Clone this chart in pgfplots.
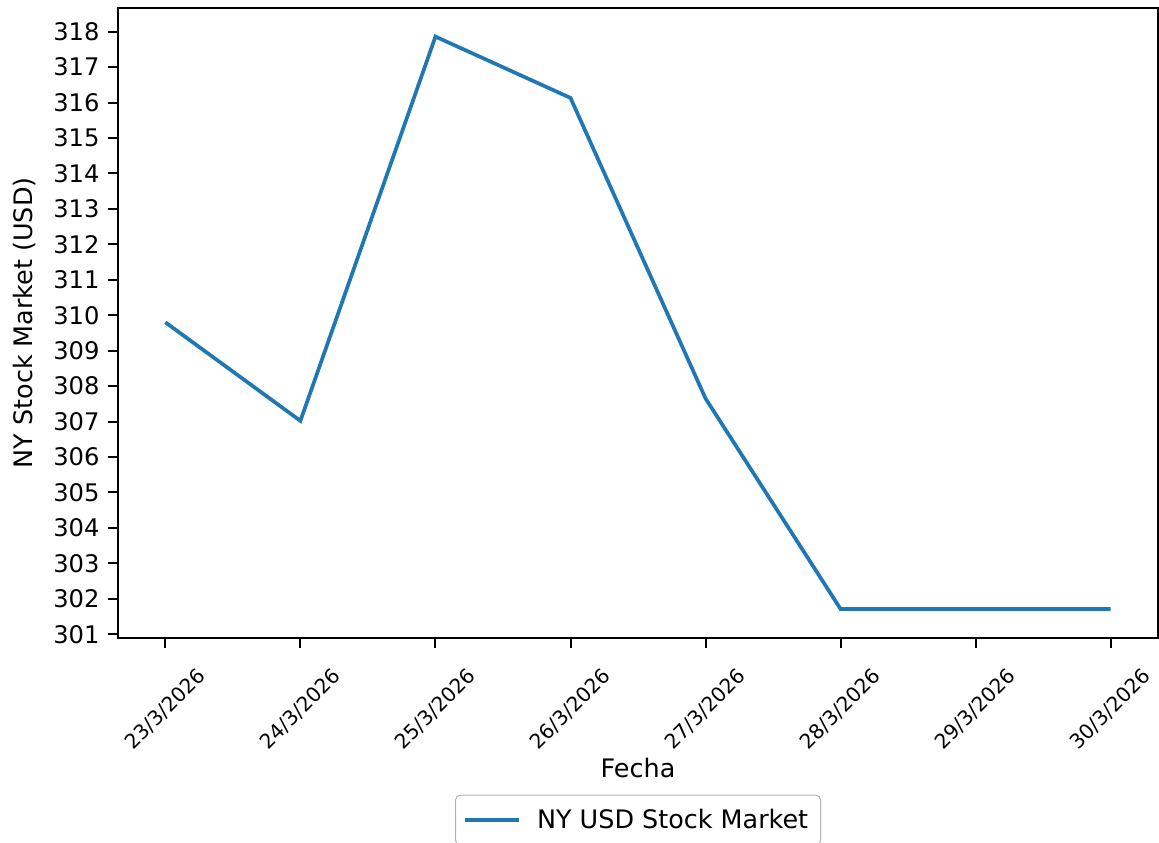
\documentclass[border=0pt]{standalone}
\usepackage{fontspec}
\setmainfont{DejaVu Sans}
\usepackage{pgfplots}
\pgfplotsset{compat=1.18}
\definecolor{mplblue}{HTML}{1F77B4}
\begin{document}
\begin{tikzpicture}
\begin{axis}[
  name=ax,
  scale only axis,
  width=421pt, height=255pt,
  xmin=-0.35, xmax=7.35,
  ymin=300.9, ymax=318.67,
  xtick={0,1,2,3,4,5,6,7},
  xticklabels={23/3/2026,24/3/2026,25/3/2026,26/3/2026,27/3/2026,28/3/2026,29/3/2026,30/3/2026},
  ytick={301,302,...,318},
  tick align=outside,
  major tick length=4pt,
  tick style={black, line width=0.8pt},
  axis line style={line width=0.8pt},
  tick pos=left,
  /pgf/number format/assume math mode=true,
  /pgf/number format/1000 sep={},
  yticklabel style={font=\fontsize{9.8}{12}\selectfont},
  xticklabel style={font=\fontsize{8.2}{10}\selectfont, yshift=-25pt, rotate=45, anchor=center},
  xlabel={Fecha},
  ylabel={NY Stock Market (USD)},
  label style={font=\fontsize{10.3}{12}\selectfont},
  xlabel style={at={(axis description cs:0.5,-0.206)}, anchor=center},
  ylabel style={at={(axis description cs:-0.0895,0.5)}, anchor=center},
  legend style={at={(0.5,-0.249)}, anchor=north, draw=black!30, rounded corners=2pt,
     font=\fontsize{10.3}{12}\selectfont, inner xsep=3pt, inner ysep=3.5pt,
     /tikz/every odd column/.append style={column sep=4.5pt}},
  legend cell align=left,
  legend image code/.code={\draw[#1] (0pt,0pt) -- (22pt,0pt);},
]
\addplot[mplblue, line width=1.5pt] coordinates {
 (0,309.80) (1,307.02) (2,317.86) (3,316.13) (4,307.65) (5,301.71) (6,301.71) (7,301.71)
};
\addlegendentry{NY USD Stock Market}
\end{axis}
\pgfresetboundingbox
\useasboundingbox ([shift={(-47.8pt,-83pt)}]ax.south west) rectangle ([shift={(0.4pt,3.2pt)}]ax.north east);
\end{tikzpicture}
\end{document}
